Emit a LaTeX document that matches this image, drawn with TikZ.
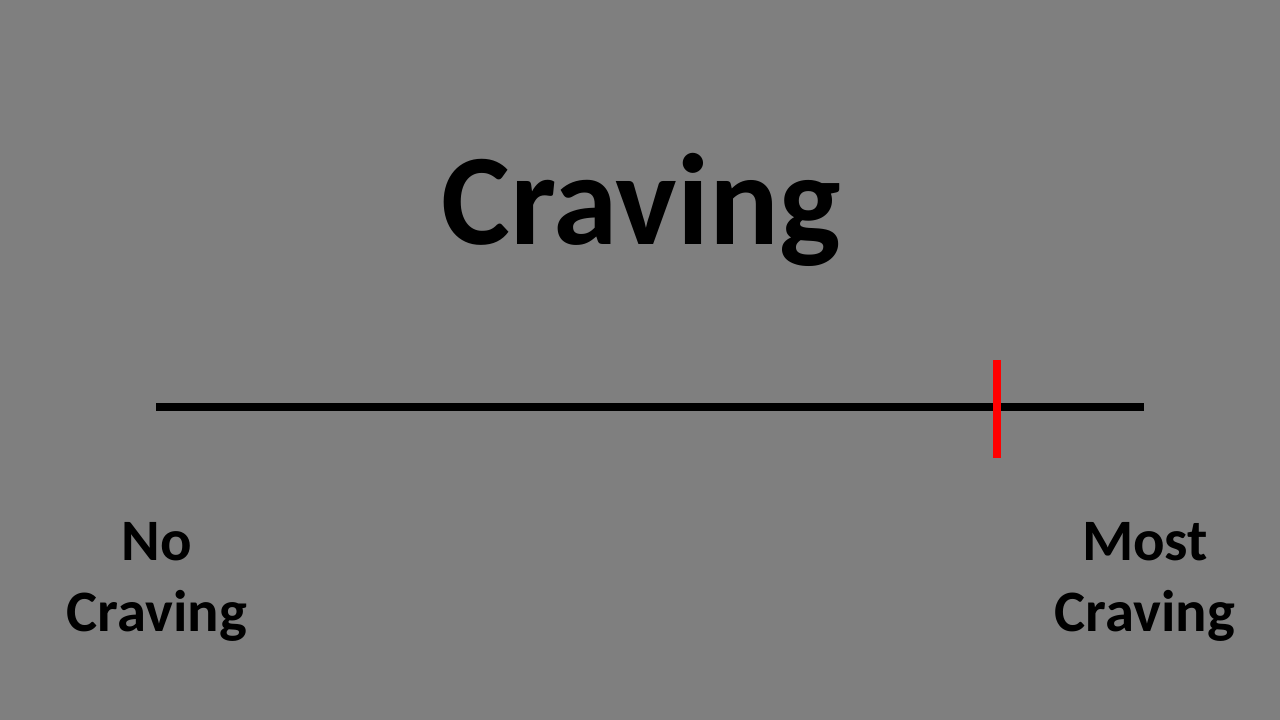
\documentclass[tikz,border=0pt]{standalone}
\usepackage{fontspec}
\setmainfont{Carlito}
\definecolor{slidegray}{RGB}{127,127,127}
\begin{document}
\begin{tikzpicture}[x=1pt,y=1pt,
  label/.style={font=\fontsize{58.7}{71}\selectfont\bfseries,align=center,inner sep=0pt,anchor=base}]
  \fill[slidegray] (0,0) rectangle (1280,720);
  \useasboundingbox (0,0) rectangle (1280,720);
  \node[font=\fontsize{130}{150}\selectfont\bfseries,inner sep=0pt,anchor=base] (title) at (641,475) {Craving};
  \coordinate (lo) at (156,313);
  \coordinate (hi) at (1144,313);
  \draw[line width=8pt] (lo)--(hi);
  \coordinate (mt) at (997,360);
  \coordinate (mb) at (997,262);
  \draw[red,line width=8pt] (mt)--(mb);
  \node[label] (none) at (157,88) {No\\Craving};
  \node[label] (most) at (1145,88) {Most\\Craving};
\end{tikzpicture}
\end{document}
